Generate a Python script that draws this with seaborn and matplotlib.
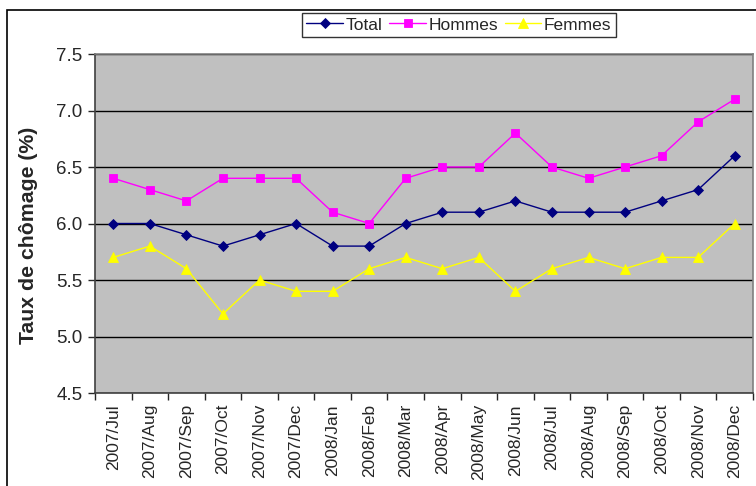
import numpy as np
import pandas as pd
import seaborn as sns
import matplotlib.pyplot as plt
from matplotlib.patches import Rectangle
from matplotlib.ticker import MultipleLocator, FixedLocator, NullFormatter

# months on the x axis
months = ["2007/Jul", "2007/Aug", "2007/Sep", "2007/Oct", "2007/Nov", "2007/Dec",
          "2008/Jan", "2008/Feb", "2008/Mar", "2008/Apr", "2008/May", "2008/Jun",
          "2008/Jul", "2008/Aug", "2008/Sep", "2008/Oct", "2008/Nov", "2008/Dec"]

# unemployment rates (%)
total = [6.0, 6.0, 5.9, 5.8, 5.9, 6.0, 5.8, 5.8, 6.0, 6.1, 6.1, 6.2, 6.1, 6.1, 6.1, 6.2, 6.3, 6.6]
hommes = [6.4, 6.3, 6.2, 6.4, 6.4, 6.4, 6.1, 6.0, 6.4, 6.5, 6.5, 6.8, 6.5, 6.4, 6.5, 6.6, 6.9, 7.1]
femmes = [5.7, 5.8, 5.6, 5.2, 5.5, 5.4, 5.4, 5.6, 5.7, 5.6, 5.7, 5.4, 5.6, 5.7, 5.6, 5.7, 5.7, 6.0]

series = ["Total", "Hommes", "Femmes"]
colors = {"Total": "#000080", "Hommes": "#FF00FF", "Femmes": "#FFFF00"}
markers = {"Total": "D", "Hommes": "s", "Femmes": "^"}
marker_sizes = {"Total": 5, "Hommes": 5.5, "Femmes": 7}

# long-format table for seaborn
df = pd.DataFrame({
    "x": list(range(len(months))) * 3,
    "taux": total + hommes + femmes,
    "serie": np.repeat(series, len(months)),
})

sns.set_style("white")
plt.rcParams["font.family"] = ["Liberation Sans", "DejaVu Sans"]

fig = plt.figure(figsize=(7.56, 4.86), dpi=100)
# outer chart border like the Excel frame
fig.patches.append(Rectangle((7 / 756, -0.1), 1.0, 1.1 - 10 / 486, transform=fig.transFigure,
                             fill=False, edgecolor="black", linewidth=1.2))
ax = fig.add_axes([95 / 756, 1 - 393 / 486, 658 / 756, 339 / 486])
ax.set_facecolor("#C0C0C0")

sns.lineplot(data=df, x="x", y="taux", hue="serie", style="serie",
             palette=colors, markers=markers, dashes=False,
             markersize=5, linewidth=1.0, markeredgewidth=0.6, ax=ax)
for line, name in zip(ax.lines, series):
    line.set_markeredgecolor(line.get_color())
    line.set_markersize(marker_sizes[name])

ax.set_xlim(-0.5, len(months) - 0.5)
ax.set_ylim(4.5, 7.5)
ax.yaxis.set_major_locator(MultipleLocator(0.5))
ax.yaxis.set_major_formatter(plt.FuncFormatter(lambda v, p: f"{v:.1f}"))
ax.grid(axis="y", color="black", linewidth=1.0)
ax.set_axisbelow(True)

# labels at category centres, ticks at boundaries
ax.xaxis.set_major_locator(FixedLocator(range(len(months))))
ax.set_xticklabels(months, rotation=90, fontsize=12.5)
ax.xaxis.set_minor_locator(FixedLocator(np.arange(-0.5, len(months), 1)))
ax.xaxis.set_minor_formatter(NullFormatter())
ax.tick_params(axis="x", which="major", length=0, pad=8)
ax.tick_params(axis="x", which="minor", length=5, width=1, direction="out", bottom=True)
ax.tick_params(axis="y", length=5, width=1, direction="out", left=True, labelsize=13.5, pad=4)

for side in ["left", "bottom"]:
    ax.spines[side].set_color("#404040")
    ax.spines[side].set_linewidth(1.2)
for side in ["top", "right"]:
    ax.spines[side].set_color("#808080")
    ax.spines[side].set_linewidth(1.2)

ax.set_xlabel("")
ax.set_ylabel("Taux de chômage (%)", fontsize=15.3, fontweight="bold")
ax.yaxis.set_label_coords(-0.087, 0.466)

leg = ax.legend(ncol=3, loc="center", bbox_to_anchor=(459 / 756, 1 - 25 / 486),
                bbox_transform=fig.transFigure, frameon=True, fancybox=False,
                edgecolor="black", fontsize=12.5, handlelength=2.1, handletextpad=0.15,
                columnspacing=0.4, borderpad=0.25, borderaxespad=0)
leg.get_frame().set_linewidth(1.0)
for handle, name in zip(leg.legend_handles, series):
    handle.set_markersize(marker_sizes[name])
    handle.set_markeredgecolor(colors[name])

fig.savefig("out.png", dpi=100)
